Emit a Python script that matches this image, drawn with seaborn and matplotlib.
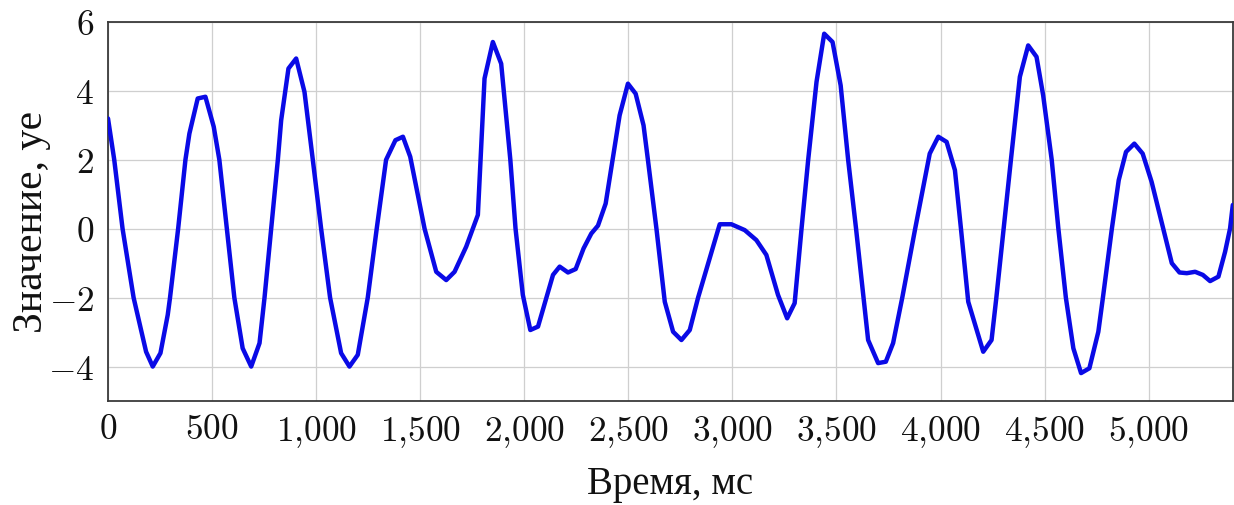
import matplotlib
matplotlib.use("Agg")
import matplotlib.pyplot as plt
import seaborn as sns
import pandas as pd
from matplotlib.ticker import FuncFormatter, FixedLocator

# ---- data ----
time_ms = [0, 30, 70, 123, 183, 215, 252, 287, 298, 337, 372, 391, 431, 468, 508,
           535, 571, 607, 647, 688, 728, 752, 784, 816, 832, 867, 904, 944, 984,
           1024, 1067, 1120, 1160, 1200, 1248, 1291, 1336, 1381, 1417, 1452, 1521,
           1577, 1625, 1665, 1721, 1777, 1809, 1849, 1889, 1933, 1958, 1993, 2029,
           2066, 2138, 2170, 2210, 2247, 2285, 2322, 2354, 2391, 2458, 2498, 2535,
           2573, 2594, 2635, 2675, 2715, 2755, 2795, 2835, 2939, 2995, 3059, 3115,
           3163, 3219, 3263, 3299, 3332, 3364, 3404, 3441, 3481, 3520, 3556, 3594,
           3630, 3652, 3700, 3737, 3772, 3816, 3878, 3948, 3989, 4029, 4069, 4098,
           4133, 4205, 4245, 4268, 4303, 4338, 4381, 4421, 4461, 4493, 4534, 4566,
           4602, 4638, 4675, 4715, 4758, 4780, 4823, 4856, 4891, 4931, 4971, 5014,
           5070, 5111, 5148, 5183, 5223, 5260, 5295, 5335, 5367, 5391, 5404]
values = [3.2, 2.0, 0.0, -2.0, -3.57, -4.0, -3.61, -2.5, -2.0, 0.0, 2.0, 2.76, 3.78, 3.83, 2.96,
          2.0, 0.0, -2.0, -3.47, -4.0, -3.32, -2.0, 0.0, 2.0, 3.15, 4.65, 4.94, 3.97, 2.0,
          0.0, -2.0, -3.61, -4.0, -3.66, -2.0, 0.0, 2.0, 2.57, 2.67, 2.09, 0.0,
          -1.25, -1.49, -1.25, -0.52, 0.40, 4.36, 5.42, 4.79, 2.0, 0.0, -1.92, -2.94,
          -2.84, -1.34, -1.10, -1.27, -1.17, -0.57, -0.14, 0.09, 0.73, 3.29, 4.21, 3.92,
          3.0, 2.0, 0.0, -2.12, -2.99, -3.23, -2.94, -2.0, 0.13, 0.13, -0.04, -0.33,
          -0.76, -1.92, -2.6, -2.16, 0.0, 2.0, 4.26, 5.66, 5.42, 4.16, 2.0, 0.0,
          -2.0, -3.23, -3.9, -3.86, -3.32, -2.0, 0.0, 2.18, 2.67, 2.52, 1.70, 0.0,
          -2.12, -3.57, -3.23, -2.0, 0.0, 2.0, 4.41, 5.32, 4.99, 3.87, 2.0, 0.0,
          -2.0, -3.47, -4.19, -4.05, -2.99, -2.0, 0.0, 1.41, 2.23, 2.47, 2.18, 1.36,
          0.0, -1.0, -1.27, -1.29, -1.25, -1.34, -1.52, -1.39, -0.67, 0.01, 0.69]
x_ticks = [0, 500, 1000, 1500, 2000, 2500, 3000, 3500, 4000, 4500, 5000]
y_ticks = [-4, -2, 0, 2, 4, 6]
x_label = "Время, мс"
y_label = "Значение, уе"

df = pd.DataFrame({"t": time_ms, "v": values})

sns.set_theme(style="white")
plt.rcParams["font.family"] = ["Liberation Serif", "DejaVu Serif"]
plt.rcParams["mathtext.fontset"] = "cm"

fig = plt.figure(figsize=(12.34, 5.06), dpi=100)
ax = fig.add_axes([108 / 1234, 1 - 402 / 506, 1125 / 1234, 379 / 506])

sns.lineplot(data=df, x="t", y="v", ax=ax, color="#0a0ae6", linewidth=3.2,
             sort=False, estimator=None, zorder=3)

ax.set_xlim(0, 5405)
ax.set_ylim(-5, 6)
ax.xaxis.set_major_locator(FixedLocator(x_ticks))
ax.yaxis.set_major_locator(FixedLocator(y_ticks))


def fmt(v, pos):
    s = f"{int(round(v)):,}".replace(",", "{,}")
    return r"$\mathrm{" + s + "}$"


ax.xaxis.set_major_formatter(FuncFormatter(fmt))
ax.yaxis.set_major_formatter(FuncFormatter(fmt))
ax.tick_params(axis="both", which="major", labelsize=25.5, length=0, colors="#111111")
ax.tick_params(axis="x", pad=9)
ax.tick_params(axis="y", pad=10)

ax.grid(True, color="#cfcfcf", linewidth=0.9)
for s in ax.spines.values():
    s.set_color("#3a3a3a")
    s.set_linewidth(1.3)

ax.set_xlabel(x_label, fontsize=28, color="#111111")
ax.set_ylabel(y_label, fontsize=30, color="#111111")
ax.xaxis.set_label_coords(0.5, -0.170)
ax.yaxis.set_label_coords(-0.0505, 0.474)

fig.savefig("out.png", dpi=100)
